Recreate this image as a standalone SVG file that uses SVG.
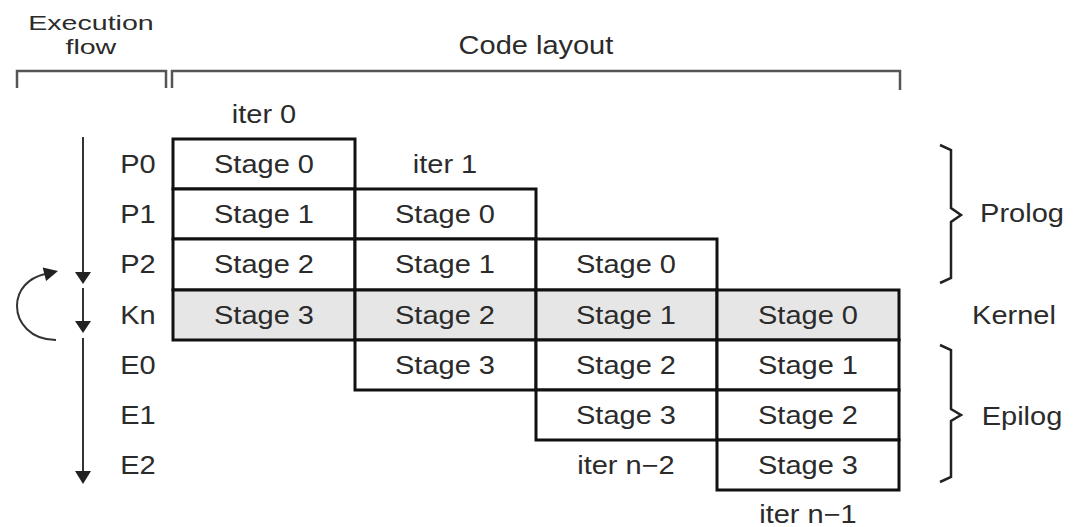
<svg xmlns="http://www.w3.org/2000/svg" width="1078" height="527" viewBox="0 0 1078 527">
<style>
text{font-family:"Liberation Sans",Arial,sans-serif;font-size:25px;fill:#2b2b2b;text-anchor:middle;transform-box:fill-box;transform-origin:center;transform:scaleX(1.16)}
text.h{font-size:21px;transform:scaleX(1.36)}
.cell{fill:#fff;stroke:#111;stroke-width:3}
.k{fill:#e6e6e6}
.br{fill:none;stroke:#555;stroke-width:2.5}
.brace{fill:none;stroke:#222;stroke-width:2.5;stroke-linejoin:miter}
.ln{fill:none;stroke:#333;stroke-width:2}
.ah{fill:#222}
</style>
<rect width="1078" height="527" fill="#fff"/>
<g id="headers">
<text class="h" x="91" y="30">Execution</text>
<text class="h" x="91" y="54">flow</text>
<text x="536" y="54">Code layout</text>
<path class="br" d="M17,88 V71 H166 V88"/>
<path class="br" d="M172,88 V71 H900 V90"/>
</g>
<g id="row-labels">
<text x="138" y="173">P0</text>
<text x="138" y="223">P1</text>
<text x="138" y="273">P2</text>
<text x="138" y="324">Kn</text>
<text x="138" y="374">E0</text>
<text x="138" y="424">E1</text>
<text x="138" y="474">E2</text>
</g>
<g id="iter-labels">
<text x="264" y="123">iter 0</text>
<text x="445" y="173">iter 1</text>
<text x="626" y="474">iter n−2</text>
<text x="808" y="523">iter n−1</text>
</g>
<g id="iter0">
<g id="c0r0"><rect class="cell" x="173" y="139" width="182" height="50"/><text x="264" y="173">Stage 0</text></g>
<g id="c0r1"><rect class="cell" x="173" y="189" width="182" height="50"/><text x="264" y="223">Stage 1</text></g>
<g id="c0r2"><rect class="cell" x="173" y="239" width="182" height="51"/><text x="264" y="273">Stage 2</text></g>
<g id="c0r3"><rect class="cell k" x="173" y="290" width="182" height="50"/><text x="264" y="324">Stage 3</text></g>
</g>
<g id="iter1">
<g id="c1r1"><rect class="cell" x="355" y="189" width="181" height="50"/><text x="445" y="223">Stage 0</text></g>
<g id="c1r2"><rect class="cell" x="355" y="239" width="181" height="51"/><text x="445" y="273">Stage 1</text></g>
<g id="c1r3"><rect class="cell k" x="355" y="290" width="181" height="50"/><text x="445" y="324">Stage 2</text></g>
<g id="c1r4"><rect class="cell" x="355" y="340" width="181" height="50"/><text x="445" y="374">Stage 3</text></g>
</g>
<g id="iter2">
<g id="c2r2"><rect class="cell" x="536" y="239" width="181" height="51"/><text x="626" y="273">Stage 0</text></g>
<g id="c2r3"><rect class="cell k" x="536" y="290" width="181" height="50"/><text x="626" y="324">Stage 1</text></g>
<g id="c2r4"><rect class="cell" x="536" y="340" width="181" height="50"/><text x="626" y="374">Stage 2</text></g>
<g id="c2r5"><rect class="cell" x="536" y="390" width="181" height="50"/><text x="626" y="424">Stage 3</text></g>
</g>
<g id="iter3">
<g id="c3r3"><rect class="cell k" x="717" y="290" width="182" height="50"/><text x="808" y="324">Stage 0</text></g>
<g id="c3r4"><rect class="cell" x="717" y="340" width="182" height="50"/><text x="808" y="374">Stage 1</text></g>
<g id="c3r5"><rect class="cell" x="717" y="390" width="182" height="50"/><text x="808" y="424">Stage 2</text></g>
<g id="c3r6"><rect class="cell" x="717" y="440" width="182" height="50"/><text x="808" y="474">Stage 3</text></g>
</g>
<g id="prolog">
<path class="brace" d="M940,145 L951,150 V208 L961,215 L951,222 V278 L940,283"/>
<text x="1022" y="222">Prolog</text>
</g>
<g id="kernel">
<text x="1014" y="324">Kernel</text>
</g>
<g id="epilog">
<path class="brace" d="M940,345 L951,350 V409 L961,415 L951,421 V477 L940,482"/>
<text x="1022" y="425">Epilog</text>
</g>
<g id="connectors">
<line class="ln" x1="83" y1="137" x2="83" y2="274"/>
<polygon class="ah" points="75,272 91,272 83,284"/>
<line class="ln" x1="83" y1="288" x2="83" y2="323"/>
<polygon class="ah" points="75,321 91,321 83,333"/>
<line class="ln" x1="83" y1="338" x2="83" y2="472"/>
<polygon class="ah" points="75,471 91,471 83,484"/>
<path class="ln" d="M56,340 C30,340 17,322 17,306 C17,290 28,278 45,274"/>
<polygon class="ah" points="58,271 42.7,267.4 46.1,281"/>
</g>
</svg>
